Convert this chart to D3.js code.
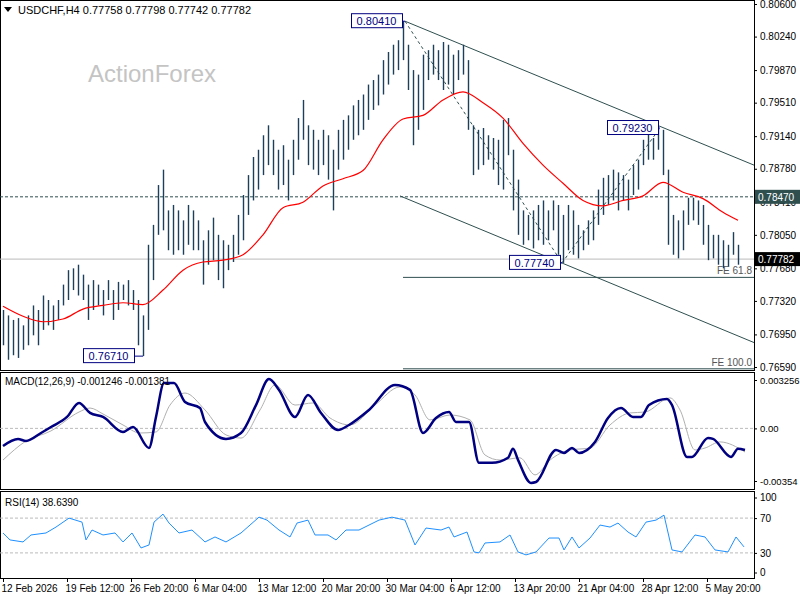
<!DOCTYPE html>
<html><head><meta charset="utf-8">
<script src="https://cdn.jsdelivr.net/npm/d3@7"></script>
<style>
body{margin:0;background:#fff;}
text{font-family:"Liberation Sans",Arial,sans-serif;}
</style></head>
<body><div id="chart-area"></div>
<script>
// H4 bars, high / low
var highs = [0.7722,0.7716,0.7711,0.7713,0.7705,0.7716,0.7727,0.7722,0.7738,0.7733,
0.7727,0.7733,0.7750,0.7766,0.7768,0.7772,0.7761,0.7750,0.7755,0.7750,
0.7744,0.7755,0.7744,0.7753,0.7750,0.7755,0.7744,0.7733,0.7716,0.7794,
0.7816,0.7860,0.7877,0.7832,0.7838,0.7832,0.7821,0.7838,0.7832,0.7821,
0.7799,0.7810,0.7824,0.7805,0.7799,0.7794,0.7805,0.7827,0.7849,0.7871,
0.7891,0.7899,0.7915,0.7926,0.7910,0.7899,0.7904,0.7888,0.7910,0.7934,
0.7954,0.7926,0.7921,0.7910,0.7921,0.7915,0.7899,0.7921,0.7932,0.7937,
0.7948,0.7954,0.7960,0.7971,0.7976,0.7982,0.7998,0.8007,0.8015,0.8020,
0.8041,0.8015,0.7987,0.7982,0.8004,0.8009,0.8015,0.8009,0.8018,0.8015,
0.8004,0.8009,0.8015,0.7998,0.7926,0.7921,0.7923,0.7915,0.7912,0.7910,
0.7932,0.7934,0.7899,0.7866,0.7832,0.7827,0.7832,0.7838,0.7843,0.7832,
0.7843,0.7838,0.7827,0.7838,0.7832,0.7816,0.7810,0.7821,0.7832,0.7855,
0.7868,0.7871,0.7877,0.7874,0.7871,0.7866,0.7882,0.7888,0.7910,0.7921,
0.7912,0.7923,0.7921,0.7877,0.7827,0.7821,0.7832,0.7846,0.7846,0.7843,
0.7838,0.7816,0.7805,0.7805,0.7799,0.7794,0.7808,0.7794];
var lows = [0.7683,0.7667,0.7672,0.7669,0.7678,0.7683,0.7694,0.7683,0.7700,0.7705,
0.7700,0.7711,0.7727,0.7733,0.7744,0.7738,0.7733,0.7711,0.7722,0.7727,
0.7716,0.7733,0.7711,0.7722,0.7733,0.7727,0.7722,0.7683,0.7671,0.7700,
0.7755,0.7805,0.7810,0.7788,0.7783,0.7788,0.7783,0.7794,0.7788,0.7788,
0.7750,0.7772,0.7777,0.7755,0.7746,0.7766,0.7775,0.7783,0.7799,0.7827,
0.7843,0.7855,0.7871,0.7882,0.7871,0.7855,0.7860,0.7843,0.7871,0.7888,
0.7910,0.7882,0.7877,0.7871,0.7882,0.7866,0.7832,0.7877,0.7888,0.7899,
0.7910,0.7915,0.7921,0.7932,0.7943,0.7948,0.7960,0.7971,0.7982,0.7987,
0.7998,0.7965,0.7904,0.7921,0.7943,0.7976,0.7982,0.7976,0.7965,0.7971,
0.7960,0.7976,0.7982,0.7921,0.7871,0.7877,0.7882,0.7888,0.7877,0.7860,
0.7855,0.7893,0.7832,0.7805,0.7794,0.7799,0.7790,0.7799,0.7794,0.7799,
0.7810,0.7783,0.7774,0.7788,0.7783,0.7779,0.7788,0.7794,0.7799,0.7816,
0.7827,0.7838,0.7843,0.7832,0.7843,0.7832,0.7849,0.7855,0.7882,0.7888,
0.7888,0.7899,0.7871,0.7794,0.7783,0.7779,0.7788,0.7816,0.7821,0.7816,
0.7794,0.7777,0.7779,0.7772,0.7768,0.7770,0.7783,0.7772];

// moving average, one value every 4 bars + last bar
var maIdx = [0,4,8,12,16,20,24,28,32,36,40,44,48,52,56,60,64,68,72,76,80,84,88,92,96,100,104,108,112,116,120,124,128,132,136,140,144,147];
var maVal = [0.7726,0.7715,0.7709,0.7712,0.7723,0.7727,0.7730,0.7728,0.7744,0.7766,0.7775,0.7777,0.7783,0.7805,0.7835,0.7841,0.7859,0.7867,0.7876,0.7910,0.7933,0.7937,0.7954,0.7963,0.7951,0.7934,0.7906,0.7882,0.7862,0.7843,0.7837,0.7843,0.7848,0.7863,0.7852,0.7845,0.7830,0.7821];

var macdIdx = [0,3,4.6,7.6,9.6,12.8,15.2,17.4,20,24,26,29.2,30.6,32.2,34.2,36.4,39.4,40.4,44.6,47.6,50.6,53.2,55.2,58.4,61,63.6,67,69.2,73.2,78.4,81.4,84,86.6,89.2,90.6,93.2,95.2,97.8,101,102,103,105.6,106.6,110.6,112.2,113.8,115.2,118.4,121,123.6,126,127.6,129.2,132.8,133.8,136.8,137.8,141,142,145.6,147,148.4];
var macdVal = [-0.00118,-0.00071,-0.00085,-0.00031,0.00009,0.00077,0.00171,0.00104,0.00077,-0.00024,0.00009,-0.00132,0.00077,0.00305,0.00305,0.00178,0.00137,0.00043,-0.00071,-0.00031,0.00157,0.00332,0.00259,0.00077,0.00225,0.00104,-0.00011,0.00023,0.00124,0.00292,0.00259,-0.00031,0.00070,0.00110,0.00043,0.00043,-0.00232,-0.00232,-0.00198,-0.00137,-0.00212,-0.00367,-0.00361,-0.00145,-0.00165,-0.00132,-0.00165,-0.00091,0.00070,0.00137,0.00077,0.00077,0.00157,0.00198,0.00157,-0.00192,-0.00192,-0.00065,-0.00071,-0.00192,-0.00137,-0.00145];
var sigIdx = [0,4.6,9.6,15.2,17.4,20,24,27.4,30.6,33.4,36.4,40.4,44.6,47.6,51.4,54.4,58.4,62,65.4,69.4,74.4,79.4,82.4,85.4,89.4,93.4,96.4,99.4,103.4,106.4,109.4,113.4,117.4,121.4,125.4,128.4,133.4,135.4,138.4,140.4,143.4,148.4];
var sigVal = [-0.00213,-0.00085,-0.00017,0.00110,0.00137,0.00097,0.00023,-0.00031,-0.00024,0.00157,0.00238,0.00124,-0.00044,-0.00065,0.00124,0.00292,0.00157,0.00171,0.00070,0.00023,0.00157,0.00279,0.00225,0.00057,0.00090,0.00057,-0.00179,-0.00213,-0.00198,-0.00313,-0.00213,-0.00145,-0.00132,0.00023,0.00104,0.00110,0.00205,0.00124,-0.00145,-0.00132,-0.00091,-0.00159];

var rsiIdx = [0,1.4,4,5.6,8.6,10.6,13.2,15.8,16.6,17.8,20,22.4,24,25.8,27.6,29.2,30.2,32,33.2,35.2,37.8,40.4,42.4,44.6,47.6,51.2,52.8,55.2,57.4,58.8,61,62.4,65,66.6,68.6,71.2,75.2,77.8,80.4,82.4,84.6,87.6,89.2,90.2,92.8,94.2,95.2,96.4,99.4,101.4,103,104.6,106.6,109.2,111.2,112.2,113.8,115.2,117.4,119.4,121.4,123,125,126.6,128.6,130.6,132.2,133.8,135.8,138.4,140.4,142.4,145,146.6,148.2];
var rsiVal = [52.9,44.9,42.6,50.6,52.9,59.7,70,65.4,44.9,56.3,50.6,52.9,42.6,52.9,35.7,39.1,65.4,74.6,64.3,52.9,56.3,42.6,48.3,42.6,52.9,71.1,67.7,56.3,48.3,64.3,67.7,50.6,50.6,44.9,56.3,56.3,67.7,71.1,67.7,39.1,58.6,56.3,59.7,48.3,54,31.1,30,41.4,42.6,50.6,31.1,27.7,31.1,47.1,47.1,33.4,48.3,35.7,47.1,62,59.7,64.3,54,48.3,65.4,67.7,73.4,33.4,31.1,50.6,48.3,33.4,31.1,48.3,36.9];

var priceTicks = [0.80600,0.80240,0.79870,0.79510,0.79140,0.78780,0.78410,0.78050,0.77680,0.77320,0.76950,0.76590];
var dateLabels = ["12 Feb 2026","19 Feb 12:00","26 Feb 20:00","6 Mar 04:00","13 Mar 12:00","20 Mar 20:00","30 Mar 04:00","6 Apr 12:00","13 Apr 20:00","21 Apr 04:00","28 Apr 12:00","5 May 20:00"];
var dateIdx = [0,12.8,25.6,38.4,51.2,64,76.8,89.6,102.4,115.2,128,140.8];

var W = 800, H = 600, R = 754;
var svg = d3.select("#chart-area").append("svg").attr("width", W).attr("height", H);

var x = d3.scaleLinear().domain([0,147]).range([3,738]);
var y = d3.scaleLinear().domain([0.76590,0.80600]).range([367,4]);
var ym = d3.scaleLinear().domain([-0.00354,0.003256]).range([481,380]);
var yr = d3.scaleLinear().domain([0,100]).range([579,492]);

var dark = "#1c3f5a";

// panel frames
[[0,370],[372,489],[491,578]].forEach(function(p){
  svg.append("rect").attr("x",0.5).attr("y",p[0]+0.5).attr("width",R).attr("height",p[1]-p[0])
    .attr("fill","none").attr("stroke","#000");
});

svg.append("text").attr("x",88).attr("y",82).attr("font-size",24).attr("fill","#c4c4c4").text("ActionForex");

// horizontal references
svg.append("line").attr("x1",0).attr("x2",R).attr("y1",y(0.7847)).attr("y2",y(0.7847))
  .attr("stroke","#2f4f4f").attr("stroke-dasharray","3,2");
svg.append("line").attr("x1",0).attr("x2",R).attr("y1",y(0.77782)).attr("y2",y(0.77782))
  .attr("stroke","#bbb");
[[0.7758,"FE 61.8"],[0.7657,"FE 100.0"]].forEach(function(f){
  svg.append("line").attr("x1",x(80)).attr("x2",R).attr("y1",y(f[0])).attr("y2",y(f[0])).attr("stroke","#2f4f4f");
  svg.append("text").attr("x",R-2).attr("y",y(f[0])-3).attr("text-anchor","end").attr("font-size",10).attr("fill","#555").text(f[1]);
});

// channel
svg.append("line").attr("x1",x(80.4)).attr("y1",y(0.8041)).attr("x2",R).attr("y2",y(0.7882)).attr("stroke","#2f4f4f");
svg.append("line").attr("x1",x(79.4)).attr("y1",y(0.7848)).attr("x2",R).attr("y2",y(0.7686)).attr("stroke","#2f4f4f");
svg.append("path").attr("d",d3.line()([[x(80.4),y(0.8041)],[x(111.8),y(0.7774)],[x(131.4),y(0.7923)]]))
  .attr("fill","none").attr("stroke","#2f4f4f").attr("stroke-dasharray","3,3");

// bars
svg.append("g").selectAll("line").data(highs).enter().append("line")
  .attr("x1",function(d,i){return x(i)+0.5;}).attr("x2",function(d,i){return x(i)+0.5;})
  .attr("y1",function(d){return y(d);}).attr("y2",function(d,i){return y(lows[i]);})
  .attr("stroke",dark).attr("stroke-width",1.4);

svg.append("path").datum(maIdx).attr("fill","none").attr("stroke","#f00").attr("stroke-width",1.2)
  .attr("d",d3.line().x(function(d){return x(d);}).y(function(d,i){return y(maVal[i]);}).curve(d3.curveMonotoneX));

// price labels
[[0.8041,80.4,351,"0.80410"],[0.7671,28,83,"0.76710"],[0.7774,111.8,509,"0.77740"],[0.7923,131.4,607,"0.79230"]].forEach(function(l){
  var yy = y(l[0]);
  svg.append("line").attr("x1",l[2]+51).attr("x2",x(l[1])).attr("y1",yy).attr("y2",yy).attr("stroke","#000080");
  svg.append("rect").attr("x",l[2]+0.5).attr("y",yy-7.5).attr("width",51).attr("height",14).attr("fill","#fff").attr("stroke","#000080");
  svg.append("text").attr("x",l[2]+25.5).attr("y",yy+4).attr("text-anchor","middle").attr("font-size",11).attr("fill","#000080").text(l[3]);
});

// axes
var ax = svg.append("g").attr("transform","translate("+R+",0)")
  .call(d3.axisRight(y).tickValues(priceTicks).tickSize(3).tickFormat(d3.format(".5f")));
ax.select(".domain").remove();
ax.selectAll("text").attr("font-size",10).attr("font-family","Liberation Sans, Arial");

function tag(v, bg, txt){
  svg.append("rect").attr("x",R+1).attr("y",y(v)-7).attr("width",45).attr("height",14).attr("fill",bg);
  svg.append("text").attr("x",R+4).attr("y",y(v)+4).attr("font-size",10).attr("fill","#fff").text(txt);
}
tag(0.7847,"#2f4f4f","0.78470");
tag(0.77782,"#000","0.77782");

// title
svg.append("path").attr("d","M4,7 L12,7 L8,12 Z").attr("fill","#000");
svg.append("text").attr("x",18).attr("y",14).attr("font-size",11).attr("fill","#000")
  .text("USDCHF,H4  0.77758 0.77798 0.77742 0.77782");

// MACD
svg.append("line").attr("x1",0).attr("x2",R).attr("y1",ym(0)).attr("y2",ym(0)).attr("stroke","#bbb").attr("stroke-dasharray","3,2");
svg.append("path").datum(sigIdx).attr("fill","none").attr("stroke","#b0b0b0").attr("stroke-width",1)
  .attr("d",d3.line().x(function(d){return x(d);}).y(function(d,i){return ym(sigVal[i]);}).curve(d3.curveMonotoneX));
svg.append("path").datum(macdIdx).attr("fill","none").attr("stroke","#000080").attr("stroke-width",2.5)
  .attr("d",d3.line().x(function(d){return x(d);}).y(function(d,i){return ym(macdVal[i]);}).curve(d3.curveMonotoneX));
svg.append("text").attr("x",5).attr("y",385).attr("font-size",10).text("MACD(12,26,9) -0.001246 -0.001381");
var am = svg.append("g").attr("transform","translate("+R+",0)")
  .call(d3.axisRight(ym).tickValues([0.003256,0,-0.00354]).tickSize(3)
  .tickFormat(function(d){return d===0?"0.00":(d>0?"0.003256":"-0.00354");}));
am.select(".domain").remove();
am.selectAll("text").attr("font-size",9.5).attr("font-family","Liberation Sans, Arial");

// RSI
[70,30].forEach(function(v){
  svg.append("line").attr("x1",0).attr("x2",R).attr("y1",yr(v)).attr("y2",yr(v)).attr("stroke","#bbb").attr("stroke-dasharray","3,2");
});
svg.append("path").datum(rsiIdx).attr("fill","none").attr("stroke","#1e90ff").attr("stroke-width",1)
  .attr("d",d3.line().x(function(d){return x(d);}).y(function(d,i){return yr(rsiVal[i]);}));
svg.append("text").attr("x",5).attr("y",506).attr("font-size",10).text("RSI(14) 38.6390");
var ar = svg.append("g").attr("transform","translate("+R+",0)")
  .call(d3.axisRight(yr).tickValues([100,70,30,0]).tickSize(3));
ar.select(".domain").remove();
ar.selectAll("text").attr("font-size",10).attr("font-family","Liberation Sans, Arial");
ar.selectAll(".tick").filter(function(d){return d===100;}).attr("transform","translate(0,498)");
ar.selectAll(".tick").filter(function(d){return d===0;}).attr("transform","translate(0,573)");

// time axis
var at = svg.append("g").attr("transform","translate(0,578)")
  .call(d3.axisBottom(x).tickValues(dateIdx).tickSize(4).tickFormat(function(d,i){return dateLabels[i];}));
at.select(".domain").remove();
at.selectAll("text").attr("font-size",10).attr("text-anchor","start").attr("dx",-2).attr("font-family","Liberation Sans, Arial");
</script></body></html>
